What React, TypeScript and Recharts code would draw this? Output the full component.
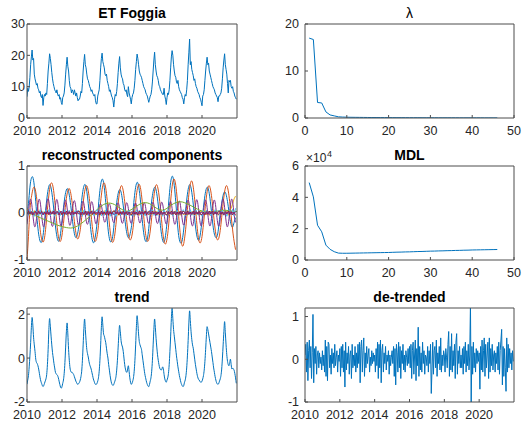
import { LineChart, Line, XAxis, YAxis } from "recharts";

const FONT = '"Liberation Sans", Arial, Helvetica, sans-serif';
const AXIS = "#4d4d4d";
const LABEL = "#262626";
const BLUE = "#0072BD";
const ORANGE = "#D95319";
const YELLOW = "#EDB120";
const PURPLE = "#7E2F8E";
const GREEN = "#77AC30";
const CYAN = "#4DBEEE";
const DARKRED = "#A2142F";

const yearTicks = [2010, 2012, 2014, 2016, 2018, 2020];
const rankTicks = [0, 10, 20, 30, 40, 50];

// ET Foggia, 24 samples per year from 2010
const etValues = [
  6.8, 9.5, 8.5, 10, 13, 17, 19.5, 21.7, 18.5, 19, 14, 12.5, 11.5, 10.5, 11, 9.5, 9, 8, 8.5, 7, 6.5, 7.5, 4, 6.5,
  7.5, 7, 8, 7.5, 11, 15, 17.5, 20.5, 19, 17, 14.5, 12.5, 11, 10, 9, 8.5, 8, 9, 7.5, 7, 7.5, 6, 6.5, 5,
  4.3, 6.5, 7, 8, 10.5, 14, 17, 19.4, 16.5, 15, 12, 10, 9.5, 8, 9, 8.5, 7.5, 9, 8, 7, 8, 6.5, 5.5, 6,
  6, 7, 8.5, 8, 11, 15, 18, 20.3, 17, 16, 14, 12.5, 12, 11, 10, 9.5, 8.5, 9, 8, 7.5, 7, 7.5, 5.5, 4.5,
  4.5, 7, 8, 9, 12, 16, 19, 20.7, 18, 17, 16, 14, 13.5, 14, 12, 11, 10, 8.5, 9, 8, 7, 6.5, 5.5, 3.5,
  6, 7.5, 7, 8.5, 11, 14.5, 17.5, 19.6, 16, 14, 13, 12.5, 11, 10.5, 9, 8.5, 9, 7.5, 6.8, 10, 8, 7, 6, 4.5,
  6.5, 7.5, 8, 9.5, 12, 15.5, 18, 20.4, 19, 17, 15, 14, 13.5, 13, 12, 11, 10, 9.5, 9, 8, 7.5, 7, 6, 5,
  6, 7, 7.5, 9, 11.5, 15, 18.5, 21, 17, 15, 13.5, 13, 12, 10.5, 10, 9, 8.5, 8, 7.5, 7.5, 9.5, 7, 6, 4.3,
  6.5, 8, 7.5, 9, 12, 16, 19.5, 21.5, 20, 17, 15, 13.5, 13, 11.5, 11, 12, 10, 9, 8.5, 8, 7.5, 6.5, 6, 4.5,
  6.5, 7.5, 7, 9, 12, 17, 21, 25.2, 17, 18, 15.5, 14.5, 13.5, 12, 12.5, 11, 10, 9.5, 8.5, 8, 7.5, 6.5, 6, 5,
  3.9, 7, 7.5, 9, 12, 15, 17.5, 19.4, 17, 17.5, 15, 14, 13, 12, 11, 10, 9.5, 9, 8, 7.5, 7, 6.5, 5.2, 7,
  7, 7.5, 8, 9.5, 12.5, 16, 18.5, 20.5, 17, 15.5, 14, 11, 8, 12, 11.5, 12, 10, 9.5, 10, 8.5, 8, 7, 6.5, 6,
];

// trend, 24 samples per year
const trendValues = [
  -1.19, -1.0, -0.8, -0.4, 0.1, 0.7, 1.4, 1.85, 1.5, 0.95, 0.6, 0.3, -0.05, -0.2, -0.25, -0.35, -0.5, -0.7, -0.9, -1.05, -1.15, -1.25, -1.3, -1.25,
  -1.15, -1.05, -0.95, -0.75, -0.3, 0.4, 1.3, 1.8, 1.45, 1.0, 0.6, 0.25, 0.0, -0.25, -0.45, -0.65, -0.72, -0.75, -0.8, -0.9, -1.05, -1.2, -1.32, -1.37,
  -1.3, -1.15, -1.0, -0.7, -0.2, 0.5, 1.2, 1.6, 1.1, 0.4, -0.1, -0.45, -0.6, -0.65, -0.65, -0.7, -0.75, -0.85, -0.95, -1.05, -1.12, -1.18, -1.2, -1.15,
  -1.1, -1.0, -0.85, -0.6, -0.1, 0.6, 1.35, 1.78, 1.3, 0.8, 0.4, 0.2, 0.05, -0.15, -0.3, -0.4, -0.5, -0.65, -0.8, -0.95, -1.05, -1.15, -1.2, -1.2,
  -1.15, -1.05, -0.9, -0.6, -0.1, 0.6, 1.4, 1.88, 1.5, 1.1, 1.0, 0.85, 0.7, 0.45, 0.2, 0.0, -0.3, -0.55, -0.8, -1.0, -1.15, -1.22, -1.25, -1.2,
  -1.1, -1.0, -0.85, -0.55, -0.1, 0.5, 1.1, 1.49, 1.2, 0.8, 0.6, 0.5, 0.3, 0.0, -0.3, -0.5, -0.62, -0.65, -0.5, -0.35, -0.6, -0.9, -1.1, -1.2,
  -1.15, -1.05, -0.9, -0.6, -0.1, 0.6, 1.4, 1.93, 1.6, 1.1, 0.75, 0.6, 0.5, 0.4, 0.15, -0.1, -0.35, -0.6, -0.8, -0.95, -1.1, -1.2, -1.28, -1.3,
  -1.2, -1.05, -0.9, -0.6, -0.1, 0.6, 1.3, 1.78, 1.4, 0.9, 0.5, 0.15, -0.1, -0.3, -0.45, -0.52, -0.55, -0.5, -0.4, -0.5, -0.75, -0.95, -1.05, -1.1,
  -1.0, -0.9, -0.7, -0.3, 0.3, 1.0, 1.8, 2.27, 1.8, 1.3, 1.0, 0.7, 0.4, 0.1, -0.15, -0.4, -0.6, -0.8, -0.95, -1.1, -1.2, -1.27, -1.3, -1.25,
  -1.1, -1.0, -0.8, -0.45, 0.1, 0.8, 1.6, 2.15, 1.7, 1.2, 0.85, 0.6, 0.45, 0.2, -0.05, -0.3, -0.5, -0.7, -0.85, -0.95, -1.0, -1.05, -1.1, -1.1,
  -1.05, -0.95, -0.8, -0.55, -0.15, 0.4, 1.0, 1.43, 1.3, 1.1, 0.9, 0.7, 0.5, 0.3, 0.05, -0.2, -0.45, -0.65, -0.85, -1.0, -1.12, -1.18, -1.2, -1.15,
  -1.05, -0.95, -0.8, -0.5, 0.0, 0.6, 1.2, 1.66, 1.15, 0.6, 0.15, -0.15, -0.3, -0.35, -0.2, -0.05, -0.3, -0.5, -0.45, -0.5, -0.55, -0.7, -0.9, -1.15,
];

// de-trended residual, 24 samples per year
const detrendValues = [
  0.1, 0.35, -0.3, 0.4, -0.5, 0.2, 0.45, -0.2, 0.3, -0.45, 0.15, 1.05, -0.55, 0.25, -0.1, 0.3, -0.35, 0.1, 0.2, -0.2, 0.15, -0.1, 0.05, -0.25,
  0.2, -0.15, 0.1, -0.3, 0.45, -0.4, 0.3, -0.5, 0.4, 0.35, -0.2, 0.1, -0.35, 0.25, -0.1, 0.15, -0.2, 0.35, -0.15, 0.05, 0.2, -0.3, 0.1, -0.05,
  0.25, -0.4, 0.3, -0.2, 0.35, -0.3, 0.2, -0.65, 0.4, -0.25, 0.15, -0.1, 0.3, -0.35, 0.1, 0.2, -0.45, 0.35, -0.2, 0.1, -0.15, 0.3, -0.3, 0.15,
  -0.2, 0.35, -0.1, 0.4, -0.55, 0.3, 0.45, -0.3, 0.2, 0.5, -0.4, 0.15, -0.2, 0.3, -0.1, 0.1, 0.25, -0.3, 0.05, -0.15, 0.2, -0.1, 0.15, -0.05,
  0.1, -0.3, 0.25, -0.15, 0.4, -0.45, 0.35, -0.2, 0.45, -0.55, 0.2, 0.35, -0.3, 0.15, -0.1, 0.3, -0.25, 0.1, -0.05, 0.2, -0.35, 0.1, -0.15, 0.05,
  0.2, -0.1, 0.3, -0.4, 0.25, -0.6, 0.35, 0.15, -0.3, 0.4, -0.2, 0.3, -0.45, 0.2, -0.1, 0.35, -0.25, 0.1, -0.3, 0.2, 0.05, -0.15, 0.25, -0.1,
  0.3, -0.2, 0.35, -0.45, 0.2, 0.4, -0.35, 0.1, 0.45, -0.5, 0.25, -0.15, 0.75, -0.4, 0.3, -0.25, 0.15, -0.3, 0.4, -0.1, 0.2, -0.35, 0.1, 0.05,
  -0.15, 0.3, -0.3, 0.2, -0.1, 0.35, -0.8, -0.25, 0.4, -0.35, 0.2, 0.3, -0.2, 0.45, -0.4, 0.15, -0.1, 0.3, -0.25, 0.5, -0.3, 0.1, -0.15, 0.2,
  0.1, -0.3, 0.25, 0.05, -0.2, 0.35, 0.65, -0.4, 0.3, -0.25, 0.6, -0.3, 0.2, -0.15, 0.35, -0.45, 0.4, 0.6, -0.35, 0.2, -0.1, 0.3, -0.2, 0.1,
  -0.2, 0.25, -0.35, 0.3, -0.1, 0.4, -0.3, 0.2, -0.15, 0.35, -0.25, 0.1, 1.3, -1.05, 0.3, -0.35, 0.4, -0.2, 0.15, -0.3, 0.25, -0.1, 0.2, -0.05,
  0.15, -0.7, 0.3, -0.25, 0.45, -0.3, 0.2, 0.5, -0.4, 0.35, -0.2, 0.1, 0.4, -0.45, 0.5, -0.3, 0.25, -0.15, 0.35, -0.25, 0.1, 0.2, -0.3, 0.15,
  -0.1, 0.3, -0.25, 0.4, -0.35, 0.2, 0.45, 0.7, -0.6, 0.3, -0.4, 0.25, -0.2, -0.75, 0.5, -0.3, 0.35, -0.2, 0.25, -0.1, 0.15, -0.25, 0.2, -0.05,
];

// reconstructed components, 12 samples per year
const rc1Values = [
  0.0, 0.2, 0.55, 0.74, 0.76, 0.58, 0.24, -0.16, -0.45, -0.6, -0.62, -0.48,
  -0.19, 0.13, 0.4, 0.57, 0.59, 0.44, 0.19, -0.13, -0.4, -0.57, -0.59, -0.44,
  -0.16, 0.11, 0.35, 0.49, 0.51, 0.38, 0.16, -0.11, -0.35, -0.5, -0.51, -0.39,
  -0.18, 0.12, 0.4, 0.57, 0.6, 0.46, 0.2, -0.13, -0.42, -0.6, -0.62, -0.47,
  -0.22, 0.15, 0.48, 0.68, 0.71, 0.54, 0.22, -0.15, -0.45, -0.6, -0.6, -0.45,
  -0.15, 0.1, 0.33, 0.47, 0.49, 0.37, 0.15, -0.11, -0.35, -0.5, -0.52, -0.4,
  -0.2, 0.14, 0.44, 0.62, 0.64, 0.48, 0.2, -0.14, -0.42, -0.58, -0.6, -0.46,
  -0.17, 0.12, 0.37, 0.52, 0.54, 0.41, 0.17, -0.12, -0.4, -0.58, -0.62, -0.48,
  -0.2, 0.16, 0.52, 0.74, 0.77, 0.58, 0.24, -0.16, -0.48, -0.62, -0.63, -0.47,
  -0.19, 0.13, 0.4, 0.57, 0.59, 0.44, 0.19, -0.13, -0.4, -0.55, -0.57, -0.42,
  -0.17, 0.12, 0.37, 0.52, 0.54, 0.41, 0.17, -0.12, -0.37, -0.5, -0.52, -0.4,
  -0.14, 0.1, 0.3, 0.43, 0.44, 0.33, 0.14, -0.09, -0.25, -0.3, -0.2, -0.1,
];
const rc2Values = [
  -1.0, -0.5, 0.06, 0.33, 0.5, 0.55, 0.45, 0.22, -0.06, -0.35, -0.55, -0.62,
  -0.53, -0.27, 0.07, 0.38, 0.59, 0.64, 0.53, 0.27, -0.07, -0.38, -0.57, -0.6,
  -0.47, -0.22, 0.05, 0.31, 0.47, 0.52, 0.42, 0.21, -0.05, -0.31, -0.5, -0.55,
  -0.45, -0.24, 0.06, 0.34, 0.53, 0.58, 0.47, 0.24, -0.06, -0.35, -0.55, -0.6,
  -0.5, -0.27, 0.07, 0.38, 0.59, 0.64, 0.53, 0.27, -0.07, -0.38, -0.58, -0.62,
  -0.5, -0.24, 0.06, 0.34, 0.53, 0.58, 0.47, 0.24, -0.06, -0.34, -0.53, -0.57,
  -0.47, -0.25, 0.06, 0.37, 0.56, 0.61, 0.5, 0.25, -0.06, -0.37, -0.56, -0.6,
  -0.49, -0.25, 0.06, 0.35, 0.55, 0.6, 0.49, 0.25, -0.06, -0.38, -0.6, -0.66,
  -0.55, -0.3, 0.07, 0.42, 0.66, 0.72, 0.59, 0.3, -0.07, -0.42, -0.65, -0.7,
  -0.55, -0.28, 0.07, 0.4, 0.62, 0.68, 0.55, 0.28, -0.07, -0.4, -0.6, -0.63,
  -0.5, -0.24, 0.06, 0.34, 0.53, 0.58, 0.47, 0.24, -0.06, -0.34, -0.53, -0.57,
  -0.47, -0.24, 0.06, 0.34, 0.53, 0.58, 0.47, 0.24, -0.06, -0.36, -0.6, -0.78,
];
const rc3Values = [
  0.1, 0.04, -0.05, 0.03, -0.02, 0.05, -0.04, 0.02, 0.04, -0.03, 0.05, -0.02,
  0.03, -0.05, 0.04, -0.02, 0.05, -0.03, 0.02, -0.05, 0.04, 0.02, -0.04, 0.03,
  -0.03, 0.05, -0.02, 0.04, -0.05, 0.03, -0.03, 0.05, -0.02, 0.04, -0.04, 0.02,
  0.04, -0.03, 0.05, -0.04, 0.02, -0.05, 0.04, -0.02, 0.05, -0.03, 0.03, -0.04,
  -0.02, 0.04, -0.05, 0.03, -0.03, 0.05, -0.04, 0.04, -0.02, 0.05, -0.05, 0.03,
  0.05, -0.02, 0.03, -0.05, 0.04, -0.03, 0.05, -0.04, 0.02, -0.03, 0.04, -0.05,
  0.03, -0.04, 0.05, -0.02, 0.04, -0.05, 0.02, 0.04, -0.03, 0.05, -0.04, 0.03,
  -0.04, 0.03, -0.02, 0.05, -0.05, 0.04, -0.03, 0.02, 0.05, -0.04, 0.03, -0.02,
  0.05, -0.05, 0.03, -0.03, 0.04, -0.02, 0.05, -0.04, 0.03, -0.05, 0.04, -0.03,
  -0.03, 0.04, -0.05, 0.05, -0.02, 0.03, -0.04, 0.05, -0.03, 0.02, -0.05, 0.04,
  0.04, -0.02, 0.05, -0.04, 0.03, -0.05, 0.04, -0.03, 0.05, -0.02, 0.03, -0.05,
  0.02, -0.04, 0.03, 0.05, -0.03, 0.04, -0.05, 0.06, 0.1, 0.2, 0.3, 0.36,
];
const rc4Values = [
  -0.24, 0.03, 0.27, 0.24, -0.03, -0.27, -0.24, 0.03, 0.27, 0.24, -0.03, -0.27,
  -0.24, 0.03, 0.28, 0.25, -0.03, -0.26, -0.24, 0.02, 0.26, 0.24, -0.03, -0.26,
  -0.22, 0.03, 0.25, 0.22, -0.03, -0.24, -0.22, 0.03, 0.24, 0.22, -0.02, -0.24,
  -0.2, 0.02, 0.23, 0.2, -0.03, -0.22, -0.2, 0.02, 0.22, 0.2, -0.02, -0.22,
  -0.17, 0.02, 0.18, 0.16, -0.02, -0.18, -0.16, 0.02, 0.18, 0.16, -0.02, -0.18,
  -0.18, 0.02, 0.2, 0.18, -0.02, -0.2, -0.18, 0.02, 0.2, 0.18, -0.02, -0.2,
  -0.18, 0.02, 0.2, 0.17, -0.02, -0.19, -0.18, 0.02, 0.2, 0.18, -0.02, -0.2,
  -0.18, 0.02, 0.21, 0.18, -0.02, -0.2, -0.19, 0.02, 0.21, 0.19, -0.02, -0.21,
  -0.2, 0.02, 0.23, 0.2, -0.03, -0.22, -0.2, 0.03, 0.23, 0.21, -0.03, -0.23,
  -0.22, 0.03, 0.25, 0.23, -0.03, -0.25, -0.23, 0.03, 0.26, 0.23, -0.03, -0.25,
  -0.23, 0.03, 0.25, 0.23, -0.03, -0.25, -0.23, 0.03, 0.25, 0.23, -0.03, -0.25,
  -0.24, 0.03, 0.27, 0.24, -0.03, -0.27, -0.24, 0.03, 0.27, 0.24, -0.03, -0.2,
];
// slow component, 4 samples per year, 2010..2022
const rc5Values = [
  0.02, -0.02, -0.06, -0.1, -0.14, -0.18, -0.22, -0.26, -0.29, -0.31, -0.32, -0.3,
  -0.25, -0.18, -0.1, -0.02, 0.07, 0.15, 0.2, 0.21, 0.18, 0.12, 0.06, 0.04,
  0.08, 0.14, 0.2, 0.22, 0.2, 0.14, 0.08, 0.06, 0.1, 0.17, 0.22, 0.24,
  0.22, 0.18, 0.13, 0.08, 0.04, 0.02, 0.02, 0.03, 0.05, 0.06, 0.05, 0.04, 0.03,
];
const rc6Values = [
  0.06, -0.05, 0.08, -0.03, 0.04, -0.07, 0.05, 0.02, -0.06, 0.07, -0.04, 0.03,
  -0.05, 0.06, -0.02, 0.07, -0.06, 0.03, 0.05, -0.07, 0.04, -0.03, 0.06, -0.05,
  0.04, -0.06, 0.07, -0.04, 0.02, 0.06, -0.05, 0.03, -0.07, 0.05, -0.02, 0.06,
  -0.04, 0.05, -0.07, 0.06, -0.03, 0.04, -0.06, 0.07, -0.02, 0.05, -0.06, 0.03,
  0.07, -0.03, 0.05, -0.06, 0.04, -0.05, 0.06, -0.02, 0.05, -0.07, 0.03, -0.04,
  0.05, -0.07, 0.03, 0.06, -0.05, 0.04, -0.03, 0.07, -0.06, 0.02, 0.05, -0.04,
  -0.06, 0.04, -0.05, 0.07, -0.03, 0.06, -0.04, 0.03, 0.05, -0.06, 0.04, -0.02,
  0.06, -0.04, 0.07, -0.05, 0.03, -0.06, 0.05, -0.03, 0.04, -0.07, 0.06, -0.03,
  -0.05, 0.07, -0.03, 0.05, -0.06, 0.04, -0.02, 0.06, -0.05, 0.03, -0.04, 0.07,
  0.04, -0.06, 0.05, -0.03, 0.07, -0.05, 0.03, -0.06, 0.06, -0.04, 0.05, -0.03,
  -0.07, 0.05, -0.04, 0.06, -0.02, 0.04, -0.06, 0.05, -0.03, 0.07, -0.05, 0.04,
  0.05, -0.03, 0.06, -0.05, 0.04, -0.07, 0.03, 0.06, -0.04, 0.08, -0.06, 0.1,
];
const rc7Values = [
  -0.03, 0.04, -0.02, 0.03, -0.04, 0.02, 0.03, -0.03, 0.04, -0.02, 0.03, -0.04,
  0.02, -0.03, 0.04, -0.04, 0.03, -0.02, 0.04, -0.03, 0.02, 0.03, -0.04, 0.03,
  -0.04, 0.02, -0.03, 0.04, -0.02, 0.03, -0.04, 0.04, -0.03, 0.02, -0.02, 0.04,
  0.03, -0.04, 0.02, -0.03, 0.04, -0.04, 0.03, -0.02, 0.04, -0.03, 0.03, -0.02,
  -0.02, 0.03, -0.04, 0.04, -0.03, 0.02, -0.03, 0.04, -0.04, 0.03, -0.02, 0.04,
  0.04, -0.02, 0.03, -0.04, 0.02, -0.03, 0.04, -0.03, 0.03, -0.04, 0.02, -0.03,
  -0.03, 0.04, -0.03, 0.02, -0.04, 0.04, -0.02, 0.03, -0.03, 0.04, -0.04, 0.02,
  0.03, -0.03, 0.04, -0.02, 0.03, -0.04, 0.02, -0.04, 0.04, -0.03, 0.02, -0.03,
  -0.04, 0.03, -0.02, 0.04, -0.03, 0.03, -0.04, 0.02, -0.03, 0.04, -0.03, 0.04,
  0.02, -0.04, 0.04, -0.03, 0.02, -0.03, 0.04, -0.04, 0.03, -0.02, 0.04, -0.03,
  -0.03, 0.02, -0.04, 0.03, -0.03, 0.04, -0.02, 0.04, -0.04, 0.03, -0.03, 0.02,
  0.04, -0.03, 0.02, -0.04, 0.03, -0.02, 0.04, -0.03, 0.03, -0.04, 0.02, -0.05,
];
const rc8Values = [
  0.02, -0.03, 0.03, -0.02, 0.01, -0.03, 0.02, -0.01, 0.03, -0.02, 0.02, -0.03,
  -0.01, 0.03, -0.02, 0.02, -0.03, 0.01, -0.02, 0.03, -0.01, 0.02, -0.03, 0.02,
  0.03, -0.01, 0.02, -0.03, 0.03, -0.02, 0.01, -0.03, 0.02, -0.02, 0.03, -0.01,
  -0.02, 0.02, -0.03, 0.01, -0.02, 0.03, -0.03, 0.02, -0.01, 0.03, -0.02, 0.02,
  0.01, -0.03, 0.02, -0.02, 0.03, -0.01, 0.02, -0.03, 0.03, -0.02, 0.01, -0.02,
  -0.03, 0.02, -0.01, 0.03, -0.02, 0.02, -0.03, 0.01, -0.02, 0.03, -0.03, 0.02,
  0.02, -0.02, 0.03, -0.03, 0.01, -0.02, 0.03, -0.02, 0.02, -0.01, 0.03, -0.03,
  -0.02, 0.03, -0.01, 0.02, -0.03, 0.02, -0.02, 0.03, -0.03, 0.01, -0.02, 0.02,
  0.03, -0.02, 0.02, -0.03, 0.02, -0.01, 0.03, -0.02, 0.01, -0.03, 0.02, -0.02,
  -0.01, 0.02, -0.03, 0.03, -0.02, 0.01, -0.02, 0.03, -0.02, 0.02, -0.03, 0.01,
  0.02, -0.03, 0.01, -0.02, 0.03, -0.03, 0.02, -0.01, 0.03, -0.02, 0.02, -0.03,
  -0.02, 0.03, -0.02, 0.01, -0.03, 0.02, -0.01, 0.03, -0.03, 0.02, -0.02, 0.03,
];

// eigenvalues and MDL against rank 1..46
const lambdaValues = [
  17.0, 16.7, 3.3, 3.2, 1.3, 0.65, 0.45, 0.25, 0.2, 0.17, 0.15, 0.14, 0.13, 0.12, 0.11, 0.1,
  0.1, 0.09, 0.09, 0.08, 0.08, 0.07, 0.07, 0.07, 0.06, 0.06, 0.06, 0.05, 0.05, 0.05, 0.05,
  0.04, 0.04, 0.04, 0.04, 0.04, 0.03, 0.03, 0.03, 0.03, 0.03, 0.03, 0.02, 0.02, 0.02, 0.02,
];
const mdlValues = [
  49400, 40300, 22200, 18000, 9500, 6800, 5300, 4400, 4300, 4300, 4350, 4400, 4450, 4500, 4550, 4600,
  4650, 4700, 4750, 4800, 4900, 5000, 5050, 5150, 5200, 5300, 5400, 5450, 5550, 5650, 5700,
  5800, 5850, 5950, 6000, 6100, 6150, 6250, 6300, 6400, 6450, 6500, 6550, 6600, 6650, 6700,
];

type Pt = { x: number; y: number };
const toPts = (vals: number[], start: number, step: number): Pt[] =>
  vals.map((y, i) => ({ x: start + i * step, y }));

type Series = { data: Pt[]; color: string; curve?: "linear" | "natural" | "monotone" };

interface PanelProps {
  box: [number, number, number, number];
  xDomain: [number, number];
  xTicks: number[];
  yDomain: [number, number];
  yTicks: number[];
  yGap: number;
  yFmt?: (v: number) => string;
  series: Series[];
}

const YW = 40;
const PAD = 10;
const XH = 26;

function Panel({ box, xDomain, xTicks, yDomain, yTicks, yGap, yFmt, series }: PanelProps) {
  const [l, t, w, h] = box;
  const tick = { fill: LABEL, fontSize: 12.5, fontFamily: FONT };
  return (
    <div style={{ position: "absolute", left: l - YW, top: t - PAD - 1 }}>
      <LineChart
        width={YW + w + 1 + PAD}
        height={PAD + 1 + h + XH}
        margin={{ top: PAD, right: PAD, bottom: 0, left: 0 }}
      >
        <XAxis type="number" dataKey="x" domain={xDomain} ticks={xTicks} interval={0} allowDataOverflow
          height={XH} stroke={AXIS} tickSize={-3} tickMargin={11} tick={tick} />
        <XAxis xAxisId="top" orientation="top" type="number" dataKey="x" domain={xDomain} ticks={xTicks}
          interval={0} allowDataOverflow height={1} stroke={AXIS} tickSize={-3} tick={false} />
        <YAxis type="number" domain={yDomain} ticks={yTicks} interval={0} allowDataOverflow width={YW}
          stroke={AXIS} tickSize={-3} tickMargin={yGap} tick={tick} tickFormatter={yFmt} />
        <YAxis yAxisId="right" orientation="right" type="number" domain={yDomain} ticks={yTicks}
          interval={0} allowDataOverflow width={1} stroke={AXIS} tickSize={-3} tick={false} />
        {series.map((s, i) => (
          <Line key={i} data={s.data} dataKey="y" type={s.curve ?? "linear"} stroke={s.color}
            strokeWidth={1} dot={false} isAnimationActive={false} />
        ))}
      </LineChart>
    </div>
  );
}

export default function App() {
  const monthly = (v: number[]) => toPts(v, 2010, 1 / 12);
  const half = (v: number[]) => toPts(v, 2010, 1 / 24);
  const titleStyle = { fontFamily: FONT, fontSize: 14, fontWeight: 700, fill: "#000" } as const;
  return (
    <div style={{ position: "absolute", left: 0, top: 0, width: 522, height: 426, background: "#fff", overflow: "hidden" }}>
      <Panel box={[27, 24, 210, 94]} xDomain={[2010, 2022]} xTicks={yearTicks} yDomain={[0, 30]}
        yTicks={[0, 10, 20, 30]} yGap={5} series={[{ data: half(etValues), color: BLUE }]} />
      <Panel box={[305, 24, 209, 94]} xDomain={[0, 50]} xTicks={rankTicks} yDomain={[0, 20]}
        yTicks={[0, 10, 20]} yGap={9} series={[{ data: toPts(lambdaValues, 1, 1), color: BLUE }]} />
      <Panel box={[27, 166, 210, 94]} xDomain={[2010, 2022]} xTicks={yearTicks} yDomain={[-1, 1]}
        yTicks={[-1, 0, 1]} yGap={5}
        series={[
          { data: monthly(rc1Values), color: BLUE, curve: "natural" },
          { data: monthly(rc2Values), color: ORANGE, curve: "natural" },
          { data: monthly(rc3Values), color: YELLOW },
          { data: monthly(rc4Values), color: PURPLE, curve: "natural" },
          { data: toPts(rc5Values, 2010, 0.25), color: GREEN, curve: "natural" },
          { data: monthly(rc6Values), color: CYAN },
          { data: monthly(rc7Values), color: DARKRED },
          { data: monthly(rc8Values), color: PURPLE },
        ]} />
      <Panel box={[305, 166, 209, 94]} xDomain={[0, 50]} xTicks={rankTicks} yDomain={[0, 60000]}
        yTicks={[0, 20000, 40000, 60000]} yGap={9} yFmt={(v) => String(v / 10000)}
        series={[{ data: toPts(mdlValues, 1, 1), color: BLUE }]} />
      <Panel box={[27, 308, 210, 94]} xDomain={[2010, 2022]} xTicks={yearTicks} yDomain={[-2, 2.28]}
        yTicks={[-2, 0, 2]} yGap={5} series={[{ data: half(trendValues), color: BLUE, curve: "monotone" }]} />
      <Panel box={[305, 308, 209, 94]} xDomain={[2010, 2022]} xTicks={yearTicks} yDomain={[-1, 1.2]}
        yTicks={[-1, 0, 1]} yGap={9} series={[{ data: half(detrendValues), color: BLUE }]} />
      <svg width={522} height={426} style={{ position: "absolute", left: 0, top: 0, pointerEvents: "none" }}>
        <text x={132} y={17.5} textAnchor="middle" style={titleStyle}>ET Foggia</text>
        <text x={409.5} y={18} textAnchor="middle" style={{ ...titleStyle, fontWeight: 400 }}>λ</text>
        <text x={132} y={159.5} textAnchor="middle" style={titleStyle}>reconstructed components</text>
        <text x={409.5} y={159.5} textAnchor="middle" style={titleStyle}>MDL</text>
        <text x={132} y={301.5} textAnchor="middle" style={titleStyle}>trend</text>
        <text x={409.5} y={301.5} textAnchor="middle" style={titleStyle}>de-trended</text>
        <text x={306} y={161.5} style={{ fontFamily: FONT, fontSize: 12, fill: LABEL }}>×10</text>
        <text x={327} y={157} style={{ fontFamily: FONT, fontSize: 9, fill: LABEL }}>4</text>
      </svg>
    </div>
  );
}
